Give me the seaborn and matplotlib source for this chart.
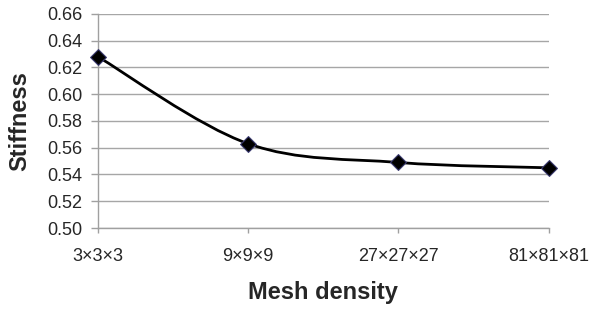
import numpy as np
import pandas as pd
import matplotlib
matplotlib.use("Agg")
import matplotlib.pyplot as plt
from matplotlib.path import Path
from matplotlib.patches import PathPatch
import seaborn as sns

# data
meshes = ["3×3×3", "9×9×9", "27×27×27", "81×81×81"]
stiffness = [0.628, 0.563, 0.549, 0.545]

sns.set_style("white")
plt.rcParams["font.family"] = ["Liberation Sans", "DejaVu Sans"]

df = pd.DataFrame({"pos": np.arange(len(meshes)), "stiffness": stiffness})

fig = plt.figure(figsize=(5.9, 3.1), dpi=100)
ax = fig.add_axes([0.166, 0.2645, 0.764, 0.6905])

# smoothed line like a spreadsheet "smoothed line" (Catmull-Rom -> cubic bezier)
pts = df[["pos", "stiffness"]].to_numpy(dtype=float)
verts = [tuple(pts[0])]
codes = [Path.MOVETO]
n = len(pts)
for i in range(n - 1):
    p0 = pts[i - 1] if i > 0 else pts[i]
    p1 = pts[i]
    p2 = pts[i + 1]
    p3 = pts[i + 2] if i + 2 < n else pts[i + 1]
    c1 = p1 + (p2 - p0) / 6.0
    c2 = p2 - (p3 - p1) / 6.0
    verts += [tuple(c1), tuple(c2), tuple(p2)]
    codes += [Path.CURVE4] * 3
ax.add_patch(PathPatch(Path(verts, codes), facecolor="none", edgecolor="black",
                       lw=2.0, zorder=3, capstyle="round", joinstyle="round"))

sns.scatterplot(data=df, x="pos", y="stiffness", marker="D", s=65,
                color="black", edgecolor="#3a3a70", linewidth=0.8,
                zorder=4, ax=ax, legend=False, clip_on=False)

ax.set_xlim(0, len(meshes) - 1)
ax.set_ylim(0.50, 0.66)
ax.set_yticks(np.arange(0.50, 0.6601, 0.02))
ax.set_yticklabels([f"{v:.2f}" for v in np.arange(0.50, 0.6601, 0.02)])
ax.set_xticks(df["pos"])
ax.set_xticklabels(meshes)

ax.yaxis.grid(True, color="#a6a6a6", lw=1.0)
ax.set_axisbelow(True)
for side in ["top", "right"]:
    ax.spines[side].set_visible(False)
for side in ["left", "bottom"]:
    ax.spines[side].set_color("#a0a0a0")
    ax.spines[side].set_linewidth(1.0)

ax.tick_params(axis="y", length=5, width=1, color="#a0a0a0", labelsize=13,
               pad=6, left=True)
ax.tick_params(axis="x", length=3.5, width=1, color="#a0a0a0", labelsize=13,
               pad=11, bottom=True)

ax.set_xlabel("Mesh density", fontsize=17, fontweight="bold")
ax.set_ylabel("Stiffness", fontsize=17, fontweight="bold")
ax.xaxis.set_label_coords(323 / 590, 1 - 293 / 310, transform=fig.transFigure)
ax.yaxis.set_label_coords(20 / 590, 1 - 121 / 310, transform=fig.transFigure)
ax.xaxis.label.set_va("center")
ax.yaxis.label.set_va("center")

fig.savefig("out.png", dpi=100)
